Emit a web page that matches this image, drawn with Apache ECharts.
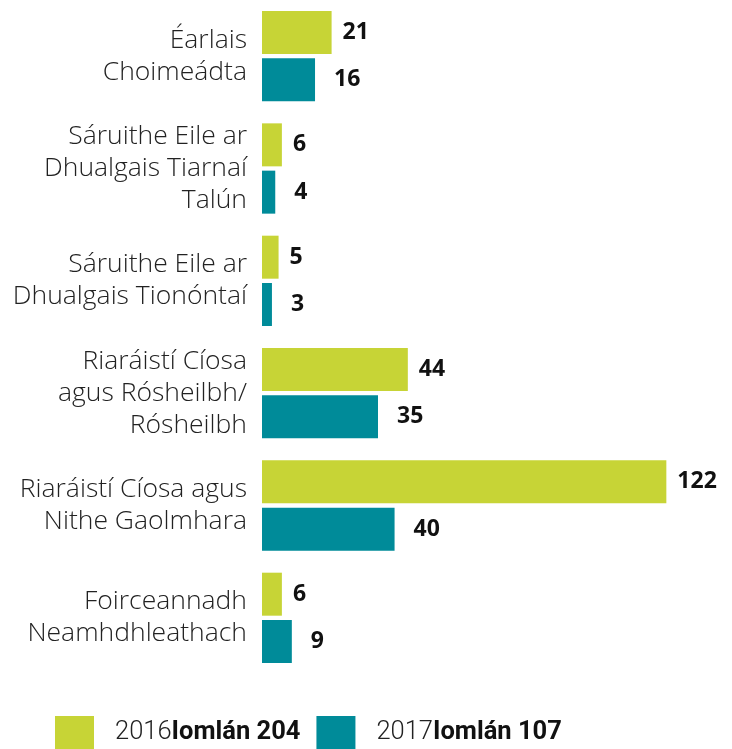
<!DOCTYPE html>
<html>
<head>
<meta charset="utf-8">
<script src="https://cdn.jsdelivr.net/npm/echarts@6/dist/echarts.min.js"></script>
<style>
  html, body { margin: 0; padding: 0; background: #fff; }
  #chart { width: 732px; height: 749px; }
</style>
</head>
<body>
<div id="chart"></div>
<script>
const categories = [
  'Éarlais\nChoimeádta',
  'Sáruithe Eile ar\nDhualgais Tiarnaí\nTalún',
  'Sáruithe Eile ar\nDhualgais Tionóntaí',
  'Riaráistí Cíosa\nagus Rósheilbh/\nRósheilbh',
  'Riaráistí Cíosa agus\nNithe Gaolmhara',
  'Foirceannadh\nNeamhdhleathach'
];
const values2016 = [21, 6, 5, 44, 122, 6];
const values2017 = [16, 4, 3, 35, 40, 9];
const legendTotals = { '2016': 'Iomlán 204', '2017': 'Iomlán 107' };

const FONT = 'Open Sans';
const NARROW = 'Roboto';
const COLORS = { Y2016: '#C7D436', Y2017: '#008B99', TEXT: '#222222' };

const chart = echarts.init(document.getElementById('chart'));

const valueLabel = (dist) => ({
  show: true,
  position: 'right',
  distance: dist,
  color: '#111',
  fontFamily: FONT,
  fontWeight: 'bold',
  fontSize: 23
});

chart.setOption({
  animation: false,
  grid: { left: 262, right: 6, top: -2, height: 676 },
  xAxis: {
    type: 'value',
    min: 0,
    max: 140,
    show: false
  },
  yAxis: {
    type: 'category',
    data: categories,
    inverse: true,
    axisLine: { show: false },
    axisTick: { show: false },
    axisLabel: {
      margin: 15,
      color: COLORS.TEXT,
      fontFamily: FONT,
      fontWeight: 300,
      fontSize: 26.5,
      lineHeight: 32,
      align: 'right'
    }
  },
  legend: {
    left: 55,
    top: 716,
    padding: 0,
    itemWidth: 39,
    itemHeight: 34,
    itemGap: 16,
    icon: 'rect',
    data: ['2016', '2017'],
    formatter: (name) => '{a|' + name + '}{b|' + legendTotals[name] + '}',
    textStyle: {
      rich: {
        a: { fontFamily: NARROW, fontWeight: 300, fontSize: 25.5, color: COLORS.TEXT, padding: [0, 0, 0, 16] },
        b: { fontFamily: NARROW, fontWeight: 'bold', fontSize: 25.5, color: '#111' }
      }
    }
  },
  series: [
    {
      name: '2016',
      type: 'bar',
      data: values2016,
      barWidth: 43,
      barGap: '10%',
      itemStyle: { color: COLORS.Y2016 },
      label: valueLabel(11)
    },
    {
      name: '2017',
      type: 'bar',
      data: values2017,
      barWidth: 43,
      itemStyle: { color: COLORS.Y2017 },
      label: valueLabel(19)
    }
  ]
});
</script>
</body>
</html>
